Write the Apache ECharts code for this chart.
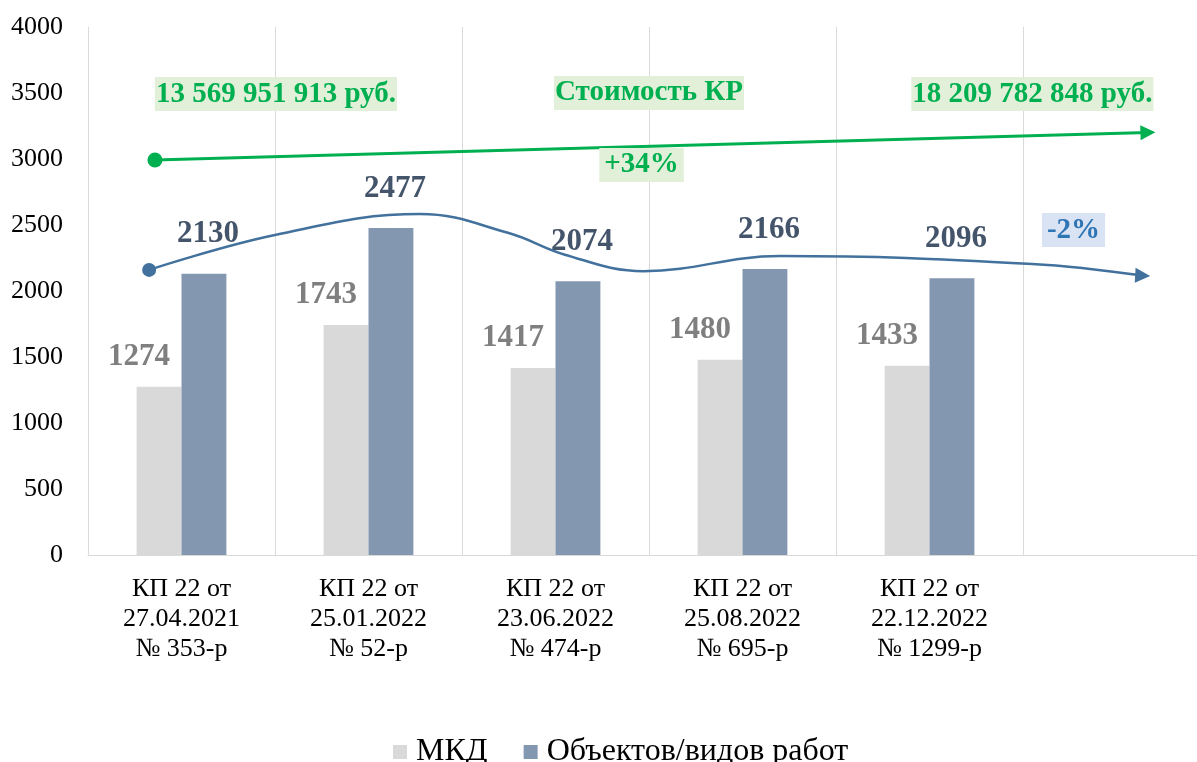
<!DOCTYPE html>
<html>
<head>
<meta charset="utf-8">
<script src="https://cdn.jsdelivr.net/npm/echarts@6/dist/echarts.min.js"></script>
<style>
html,body{margin:0;padding:0;background:#fff;overflow:hidden;}
#chart{width:1197px;height:762px;}
</style>
</head>
<body>
<div id="chart"></div>
<script>
// ---- data ----
const categories = ['КП 22 от\n27.04.2021\n№ 353-р', 'КП 22 от\n25.01.2022\n№ 52-р', 'КП 22 от\n23.06.2022\n№ 474-р', 'КП 22 от\n25.08.2022\n№ 695-р', 'КП 22 от\n22.12.2022\n№ 1299-р', ''];
const mkd = [1274, 1743, 1417, 1480, 1433];
const objects = [2130, 2477, 2074, 2166, 2096];
const seriesNames = ['МКД', 'Объектов/видов работ'];
const yTicks = [0, 500, 1000, 1500, 2000, 2500, 3000, 3500, 4000];

// annotation: cost arrow (green) and count trend curve (blue), in axis coordinates
const costLineX = [0.358, 5.668];
const costLineY = [2992, 3201];
const trendX = [0.327, 1.0, 1.775, 2.25, 2.55, 2.97, 3.70, 5.05, 5.64];
const trendY = [2160, 2424, 2583, 2439, 2275, 2150, 2265, 2205, 2117];
const noteTexts = ['13 569 951 913 руб.', 'Стоимость КР', '18 209 782 848 руб.', '+34%', '-2%'];
const noteX = [1.005, 3.0, 5.05, 2.96, 5.27];
const noteY = [3492, 3500, 3492, 2955, 2462];

const FONT = '"Liberation Serif", "Times New Roman", serif';
const GREEN = '#00B050';
const BLUE_LINE = '#41719C';

const chart = echarts.init(document.getElementById('chart'));

function lineData(xs, ys, startSize, arrowRot) {
  return xs.map((x, i) => {
    const item = { value: [x, ys[i]] };
    if (i === 0) { item.symbol = 'circle'; item.symbolSize = startSize; }
    else if (i === xs.length - 1) { item.symbol = 'triangle'; item.symbolSize = [15, 15]; item.symbolRotate = arrowRot; }
    else { item.symbol = 'none'; }
    return item;
  });
}

const noteStyles = [
  { color: GREEN, bg: '#E2F0D9', pad: [2, 1, 2, 1] },
  { color: GREEN, bg: '#E2F0D9', pad: [2, 1, 2, 1] },
  { color: GREEN, bg: '#E2F0D9', pad: [2, 1, 2, 1] },
  { color: GREEN, bg: '#E2F0D9', pad: [2, 5, 2, 5] },
  { color: '#2E75B6', bg: '#DAE3F3', pad: [2, 5, 2, 5] }
];

const option = {
  animation: false,
  backgroundColor: '#ffffff',
  grid: { left: 88, width: 1122, top: 27, bottom: 207, containLabel: false, outerBoundsMode: 'none' },
  legend: {
    top: 731,
    left: 388,
    itemWidth: 14,
    itemHeight: 14,
    itemGap: 36,
    icon: 'rect',
    data: seriesNames,
    textStyle: { fontFamily: FONT, fontSize: 32, color: '#000', padding: [0, 0, 0, 4] }
  },
  xAxis: [
    {
      type: 'category',
      data: categories,
      boundaryGap: true,
      axisLine: { show: true, lineStyle: { color: '#D9D9D9', width: 1 } },
      axisTick: { show: false },
      splitLine: { show: true, interval: 0, lineStyle: { color: '#D9D9D9', width: 1 } },
      axisLabel: { interval: 0, margin: 19, fontFamily: FONT, fontSize: 26, lineHeight: 30, color: '#000' }
    },
    { type: 'value', min: 0, max: 6, show: false }
  ],
  yAxis: {
    type: 'value',
    min: yTicks[0],
    max: yTicks[yTicks.length - 1],
    interval: yTicks[1] - yTicks[0],
    axisLine: { show: false },
    axisTick: { show: false },
    splitLine: { show: false },
    axisLabel: { margin: 25, fontFamily: FONT, fontSize: 26, color: '#000', formatter: v => String(v) }
  },
  series: [
    {
      name: seriesNames[0],
      type: 'bar',
      data: mkd,
      barGap: '0%',
      barCategoryGap: '52%',
      itemStyle: { color: '#D9D9D9' },
      label: { show: true, position: 'top', distance: 14, offset: [-20, 0], fontFamily: FONT, fontSize: 31, fontWeight: 'bold', color: '#7F7F7F' },
      emphasis: { disabled: true }
    },
    {
      name: seriesNames[1],
      type: 'bar',
      data: objects,
      itemStyle: { color: '#8497B0' },
      label: { show: true, position: 'top', distance: 24, offset: [4, 0], fontFamily: FONT, fontSize: 31, fontWeight: 'bold', color: '#44546A' },
      emphasis: { disabled: true }
    },
    {
      name: 'cost',
      type: 'line',
      xAxisIndex: 1,
      data: lineData(costLineX, costLineY, 15, -88.4),
      lineStyle: { color: GREEN, width: 3 },
      itemStyle: { color: GREEN },
      z: 5,
      silent: true,
      emphasis: { disabled: true }
    },
    {
      name: 'trend',
      type: 'line',
      xAxisIndex: 1,
      smooth: 0.4,
      data: lineData(trendX, trendY, 14, -93),
      lineStyle: { color: BLUE_LINE, width: 2.5 },
      itemStyle: { color: BLUE_LINE },
      z: 5,
      silent: true,
      emphasis: { disabled: true }
    },
    {
      name: 'notes',
      type: 'scatter',
      xAxisIndex: 1,
      symbolSize: 0,
      silent: true,
      z: 6,
      itemStyle: { opacity: 1 },
      data: noteTexts.map((t, i) => ({
        name: t,
        value: [noteX[i], noteY[i]],
        label: {
          show: true,
          position: 'inside',
          formatter: '{b}',
          fontFamily: FONT,
          fontSize: 29,
          fontWeight: 'bold',
          lineHeight: 30,
          opacity: 1,
          color: noteStyles[i].color,
          backgroundColor: noteStyles[i].bg,
          padding: noteStyles[i].pad
        }
      })),
      emphasis: { disabled: true }
    }
  ]
};

chart.setOption(option);
</script>
</body>
</html>
